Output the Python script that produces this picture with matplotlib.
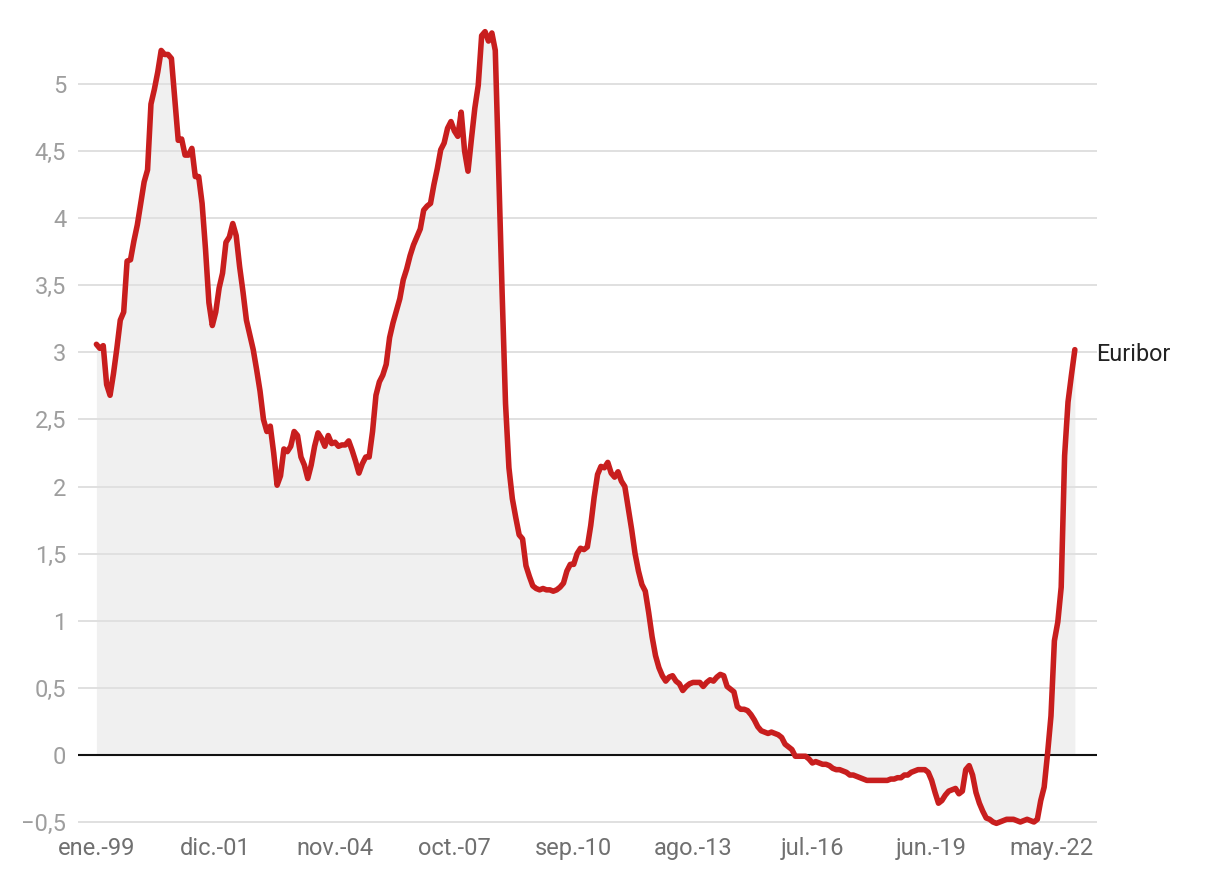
import matplotlib
matplotlib.use("Agg")
import matplotlib.pyplot as plt
import numpy as np

# Monthly 12-month Euribor, Jan 1999 - Dec 2022
v1999 = [3.06, 3.03, 3.05, 2.76, 2.68, 2.84, 3.03, 3.24, 3.30, 3.68, 3.69, 3.83]
v2000 = [3.95, 4.11, 4.27, 4.36, 4.85, 4.96, 5.09, 5.25, 5.22, 5.22, 5.19, 4.88]
v2001 = [4.58, 4.59, 4.47, 4.47, 4.52, 4.31, 4.31, 4.11, 3.77, 3.37, 3.20, 3.30]
v2002 = [3.48, 3.59, 3.82, 3.86, 3.96, 3.87, 3.64, 3.45, 3.24, 3.13, 3.02, 2.87]
v2003 = [2.71, 2.50, 2.41, 2.45, 2.25, 2.01, 2.08, 2.28, 2.26, 2.30, 2.41, 2.38]
v2004 = [2.22, 2.16, 2.06, 2.16, 2.30, 2.40, 2.36, 2.30, 2.38, 2.32, 2.33, 2.30]
v2005 = [2.31, 2.31, 2.34, 2.27, 2.19, 2.10, 2.17, 2.22, 2.22, 2.41, 2.68, 2.78]
v2006 = [2.83, 2.91, 3.11, 3.22, 3.31, 3.40, 3.54, 3.62, 3.72, 3.80, 3.86, 3.92]
v2007 = [4.06, 4.09, 4.11, 4.25, 4.37, 4.51, 4.56, 4.67, 4.72, 4.65, 4.61, 4.79]
v2008 = [4.50, 4.35, 4.59, 4.82, 4.99, 5.36, 5.39, 5.32, 5.38, 5.25, 4.35, 3.45]
v2009 = [2.62, 2.14, 1.91, 1.77, 1.64, 1.61, 1.41, 1.33, 1.26, 1.24, 1.23, 1.24]
v2010 = [1.23, 1.23, 1.22, 1.23, 1.25, 1.28, 1.37, 1.42, 1.42, 1.50, 1.54, 1.53]
v2011 = [1.55, 1.71, 1.92, 2.09, 2.15, 2.14, 2.18, 2.10, 2.07, 2.11, 2.04, 2.00]
v2012 = [1.84, 1.68, 1.50, 1.37, 1.27, 1.22, 1.06, 0.88, 0.74, 0.65, 0.59, 0.55]
v2013 = [0.58, 0.59, 0.55, 0.53, 0.48, 0.51, 0.53, 0.54, 0.54, 0.54, 0.51, 0.54]
v2014 = [0.56, 0.55, 0.58, 0.60, 0.59, 0.51, 0.49, 0.47, 0.36, 0.34, 0.34, 0.33]
v2015 = [0.30, 0.26, 0.21, 0.18, 0.17, 0.16, 0.17, 0.16, 0.15, 0.13, 0.08, 0.06]
v2016 = [0.04, -0.01, -0.01, -0.01, -0.01, -0.03, -0.06, -0.05, -0.06, -0.07, -0.07, -0.08]
v2017 = [-0.10, -0.11, -0.11, -0.12, -0.13, -0.15, -0.15, -0.16, -0.17, -0.18, -0.19, -0.19]
v2018 = [-0.19, -0.19, -0.19, -0.19, -0.19, -0.18, -0.18, -0.17, -0.17, -0.15, -0.15, -0.13]
v2019 = [-0.12, -0.11, -0.11, -0.11, -0.13, -0.19, -0.28, -0.36, -0.34, -0.30, -0.27, -0.26]
v2020 = [-0.25, -0.29, -0.27, -0.11, -0.08, -0.15, -0.28, -0.36, -0.42, -0.47, -0.48, -0.50]
v2021 = [-0.51, -0.50, -0.49, -0.48, -0.48, -0.48, -0.49, -0.50, -0.49, -0.48, -0.49, -0.50]
v2022 = [-0.48, -0.34, -0.24, 0.01, 0.29, 0.85, 0.99, 1.25, 2.23, 2.63, 2.83, 3.02]

values = np.array(v1999 + v2000 + v2001 + v2002 + v2003 + v2004 + v2005 + v2006 +
                  v2007 + v2008 + v2009 + v2010 + v2011 + v2012 + v2013 + v2014 +
                  v2015 + v2016 + v2017 + v2018 + v2019 + v2020 + v2021 + v2022)
months = np.arange(len(values))  # 0 = ene. 1999

xtick_idx = [0, 35, 70, 105, 140, 175, 210, 245, 280]
xtick_labels = ["ene.-99", "dic.-01", "nov.-04", "oct.-07", "sep.-10",
                "ago.-13", "jul.-16", "jun.-19", "may.-22"]
ytick_vals = [-0.5, 0, 0.5, 1, 1.5, 2, 2.5, 3, 3.5, 4, 4.5, 5]
ytick_labels = ["\u22120,5", "0", "0,5", "1", "1,5", "2", "2,5", "3", "3,5", "4", "4,5", "5"]
series_name = "Euribor"

plt.rcParams['font.family'] = ['Roboto', 'DejaVu Sans']

fig = plt.figure(figsize=(12.12, 8.84), dpi=100)
ax = fig.add_axes([78/1212, 1 - 828.7/884, (1097-78)/1212, (828.7-23.6)/884])

ax.fill_between(months, 0, values, color="#f0f0f0", linewidth=0, zorder=1)
for yv in ytick_vals:
    if yv != 0:
        ax.axhline(yv, color="#e0e0e0", linewidth=1.4, zorder=2)
ax.axhline(0, color="#111111", linewidth=1.5, zorder=3)
ax.plot(months, values, color="#c81e1e", linewidth=4.0, solid_joinstyle="round",
        solid_capstyle="round", zorder=4)

ax.set_xlim(-5.4, 293.5)
ax.set_ylim(-0.55, 5.45)
ax.set_xticks(xtick_idx)
ax.set_xticklabels(xtick_labels)
ax.set_yticks(ytick_vals)
ax.set_yticklabels(ytick_labels)
ax.tick_params(axis="x", length=0, pad=6, labelsize=17, labelcolor="#707070")
ax.tick_params(axis="y", length=0, pad=8.5, labelsize=17, labelcolor="#9e9e9e")
for s in ax.spines.values():
    s.set_visible(False)

ax.annotate(series_name, xy=(months[-1], values[-1]), xytext=(15.5, -3.5),
            textcoords="offset points", va="center", ha="left",
            fontsize=16.8, color="#222222", annotation_clip=False)

fig.savefig("out.png", dpi=100)
